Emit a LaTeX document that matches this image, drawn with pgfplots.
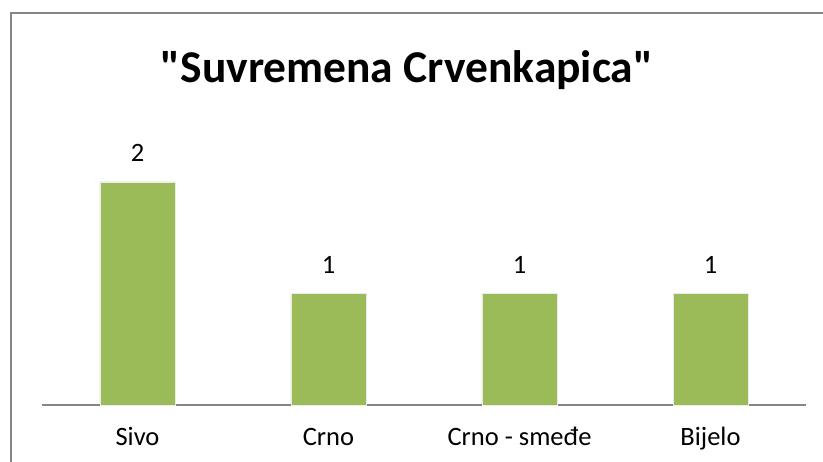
\documentclass[border=0pt]{standalone}
\usepackage{pgfplots}
\pgfplotsset{compat=1.18}
\usepackage{fontspec}
\setmainfont{Carlito}[Ligatures=TeXOff]
\definecolor{barc}{HTML}{9BBB59}
\definecolor{framec}{HTML}{868686}
\begin{document}
\begin{tikzpicture}[x=1pt,y=1pt]
\useasboundingbox (0,0) rectangle (823,462);
\begin{scope}
\clip (0,0) rectangle (823,462);
\draw[framec, line width=2pt] (11,-5) -- (11,449) -- (830,449);
\end{scope}
\node[anchor=base, font=\fontsize{45.5}{50}\selectfont\bfseries] at (407,379) {"Suvremena Crvenkapica"};
\begin{axis}[
  at={(42pt,57pt)}, anchor=south west, scale only axis,
  width=764pt, height=278.75pt,
  xmin=-0.5, xmax=3.5, ymin=0, ymax=2.5,
  axis y line=none, axis x line=bottom,
  x axis line style={-, framec, line width=1.5pt},
  xtick={0,1,2,3},
  xticklabels={Sivo,Crno,Crno - smeđe,Bijelo},
  major tick length=0pt,
  xticklabel style={anchor=base, yshift=-41pt, font=\fontsize{26.5}{30}\selectfont},
  ybar, bar width=75pt,
  nodes near coords,
  nodes near coords style={anchor=base, yshift=20pt, font=\fontsize{26.5}{30}\selectfont, inner sep=0pt, /pgf/number format/assume math mode=true},
  point meta=y,
  clip=false,
]
\addplot[fill=barc, draw=white!92!black, line width=0.8pt] coordinates {(0,2) (1,1) (2,1) (3,1)};
\end{axis}
\end{tikzpicture}
\end{document}
